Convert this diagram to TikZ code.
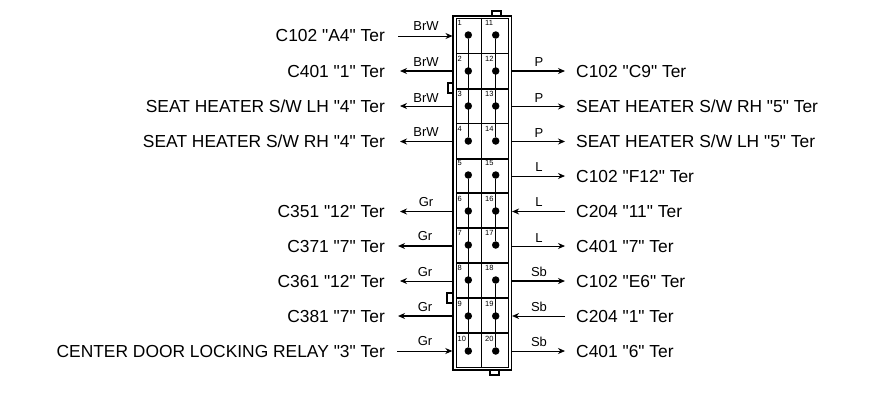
\documentclass[tikz,border=0pt]{standalone}
\usepackage{fontspec}
\newfontfamily\plainsans{Liberation Sans}
\usetikzlibrary{arrows.meta}
\tikzset{
  x=1pt,y=-1pt,
  wirethin/.style={line width=0.8pt},
  wirethick/.style={line width=1.6pt},
  tipped/.style={-{Stealth[length=7pt,width=6pt]}},
  leftlabel/.style={anchor=east,inner ysep=0pt,inner xsep=0pt,text height=12pt,text depth=0pt,font=\plainsans\fontsize{17.4}{18}\selectfont},
  rightlabel/.style={anchor=west,inner ysep=0pt,inner xsep=0pt,text height=12pt,text depth=0pt,font=\plainsans\fontsize{17.4}{18}\selectfont},
  wirelabel/.style={inner sep=0pt,font=\plainsans\fontsize{13}{14}\selectfont},
  pinnum/.style={anchor=north west,inner sep=0pt,font=\plainsans\fontsize{7.5}{8}\selectfont},
  pindot/.style={circle,fill=black,inner sep=0pt,minimum size=7.5pt},
  housing/.style={draw=black,line width=1.3pt,fill=white},
  tabline/.style={draw=black,line width=1.3pt},
  cellrule/.style={line width=1.1pt},
  busbar/.style={line width=1.3pt}
}
\begin{document}
\begin{tikzpicture}
\useasboundingbox (0,0) rectangle (880,408);
\fill[white] (0,0) rectangle (880,408);
% locating tabs
\draw[tabline] (492,16) -- (492,11) -- (501,11) -- (501,16);
\draw[tabline] (453,83) -- (448,83) -- (448,93) -- (453,93);
\draw[tabline] (453,293) -- (447,293) -- (447,303) -- (453,303);
\draw[tabline] (490,370) -- (490,375) -- (499,375) -- (499,370);
% housing
\node[housing,minimum width=58.5pt,minimum height=354pt,inner sep=0pt] (box) at (482.2,193) {};
\node[draw=black,line width=0.9pt,minimum width=52.5pt,minimum height=349pt,inner sep=0pt] (inner) at (482.5,192.5) {};
\draw[line width=1.3pt] (inner.north) ++(-1,0) -- ++(0,349);
% cell rules
\foreach \y in {53.5,89,123.5,159,193,228,263,298,333}
  \draw[cellrule] (456,\y) -- (509,\y);
% pins, left column 1-10 and right column 11-20
\foreach \n/\y in {1/35,2/71,3/106,4/141,5/175,6/211,7/245,8/280,9/316,10/351}{
  \node[pindot] (a\n) at (468.3,\y) {};
  \node[pinnum] (na\n) at (457.5,\y-15) {\n};
}
\foreach \n/\y [evaluate=\n as \m using int(\n+10)] in {1/35,2/71,3/106,4/141,5/175,6/211,7/245,8/280,9/316,10/351}{
  \node[pindot] (b\n) at (495.7,\y) {};
  \node[pinnum] (nb\n) at (485,\y-15) {\m};
}
% bus bars
\draw[busbar] (a1) -- (a4);
\draw[busbar] (a5) -- (a10);
\draw[busbar] (b1) -- (b4);
\draw[busbar] (b5) -- (b7);
\draw[busbar] (b8) -- (b10);
% left labels
\node[leftlabel] (l1) at (385,35.5) {C102 "A4" Ter};
\node[leftlabel] (l2) at (385,71) {C401 "1" Ter};
\node[leftlabel] (l3) at (385,106) {SEAT HEATER S/W LH "4" Ter};
\node[leftlabel] (l4) at (385,141.5) {SEAT HEATER S/W RH "4" Ter};
\node[leftlabel] (l6) at (385,211.5) {C351 "12" Ter};
\node[leftlabel] (l7) at (385,246) {C371 "7" Ter};
\node[leftlabel] (l8) at (385,281) {C361 "12" Ter};
\node[leftlabel] (l9) at (385,316) {C381 "7" Ter};
\node[leftlabel] (l10) at (385,351) {CENTER DOOR LOCKING RELAY "3" Ter};
% right labels
\node[rightlabel] (r2) at (576,71) {C102 "C9" Ter};
\node[rightlabel] (r3) at (576,106.5) {SEAT HEATER S/W RH "5" Ter};
\node[rightlabel] (r4) at (576,141.5) {SEAT HEATER S/W LH "5" Ter};
\node[rightlabel] (r5) at (576,176) {C102 "F12" Ter};
\node[rightlabel] (r6) at (576,211.5) {C204 "11" Ter};
\node[rightlabel] (r7) at (576,246) {C401 "7" Ter};
\node[rightlabel] (r8) at (576,281) {C102 "E6" Ter};
\node[rightlabel] (r9) at (576,316) {C204 "1" Ter};
\node[rightlabel] (r10) at (576,351) {C401 "6" Ter};
% left connectors
\draw[wirethin,tipped] ([xshift=13pt,yshift=-0.5pt]l1.east) -- ++(54.5,0);
\draw[wirethick,tipped] ([yshift=0pt]l2.east -| box.west) -- ([xshift=15pt]l2.east);
\draw[wirethin,tipped] (l3.east -| box.west) -- ([xshift=15pt]l3.east);
\draw[wirethick,tipped] (l4.east -| box.west) -- ([xshift=15pt]l4.east);
\draw[wirethin,tipped] (l6.east -| box.west) -- ([xshift=15pt]l6.east);
\draw[wirethick,tipped] (l7.east -| box.west) -- ([xshift=13pt]l7.east);
\draw[wirethin,tipped] (l8.east -| box.west) -- ([xshift=15pt]l8.east);
\draw[wirethick,tipped] (l9.east -| box.west) -- ([xshift=13pt]l9.east);
\draw[wirethin,tipped] ([xshift=12pt]l10.east) -- (l10.east -| box.west);
% right connectors
\draw[wirethick,tipped] (r2.west -| box.east) -- ([xshift=-11pt]r2.west);
\draw[wirethick,tipped] (r3.west -| box.east) -- ([xshift=-11pt]r3.west);
\draw[wirethin,tipped] (r4.west -| box.east) -- ([xshift=-11pt]r4.west);
\draw[wirethin,tipped] (r5.west -| box.east) -- ([xshift=-11pt]r5.west);
\draw[wirethick,tipped] ([xshift=-11pt]r6.west) -- (r6.west -| box.east);
\draw[wirethin,tipped] (r7.west -| box.east) -- ([xshift=-11pt]r7.west);
\draw[wirethick,tipped] (r8.west -| box.east) -- ([xshift=-11pt]r8.west);
\draw[wirethin,tipped] ([xshift=-11pt]r9.west) -- (r9.west -| box.east);
\draw[wirethin,tipped] (r10.west -| box.east) -- ([xshift=-11pt]r10.west);
% wire labels
\node[wirelabel] (wl1) at (426,26.5) {BrW};
\node[wirelabel] (wl2) at (426,62) {BrW};
\node[wirelabel] (wl3) at (426,98) {BrW};
\node[wirelabel] (wl4) at (426,132.5) {BrW};
\node[wirelabel] (wl6) at (426,202) {Gr};
\node[wirelabel] (wl7) at (425,236.5) {Gr};
\node[wirelabel] (wl8) at (425,272) {Gr};
\node[wirelabel] (wl9) at (425,307) {Gr};
\node[wirelabel] (wl10) at (425,341) {Gr};
\node[wirelabel] (wr2) at (539,62.5) {P};
\node[wirelabel] (wr3) at (539,98.5) {P};
\node[wirelabel] (wr4) at (539,133) {P};
\node[wirelabel] (wr5) at (539,167) {L};
\node[wirelabel] (wr6) at (539,202) {L};
\node[wirelabel] (wr7) at (539,238) {L};
\node[wirelabel] (wr8) at (539,272) {Sb};
\node[wirelabel] (wr9) at (539,307) {Sb};
\node[wirelabel] (wr10) at (539,341.5) {Sb};
\end{tikzpicture}
\end{document}
